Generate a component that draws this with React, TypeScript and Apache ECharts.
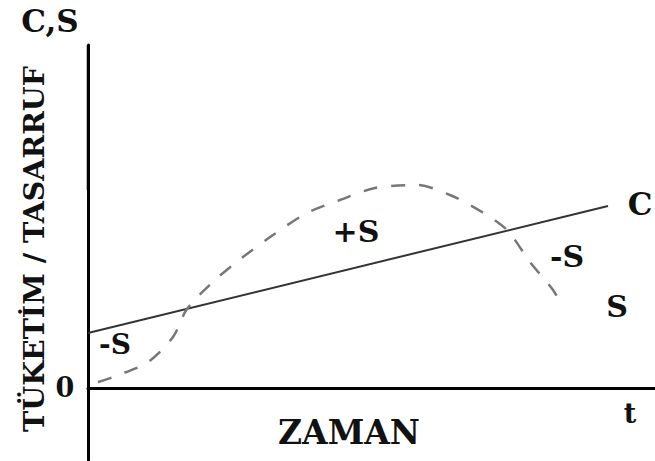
import React, { useEffect, useRef } from "react";
import * as echarts from "echarts";

// time (arbitrary units) and values (arbitrary units)
const consumptionT = [0, 520];
const consumptionV = [55, 182];
const savingT = [10, 25, 60, 85, 99, 127, 155, 185, 219, 252, 287, 329, 362, 394, 419, 442, 465, 472];
const savingV = [6, 11, 26, 51, 79, 108, 131, 153, 175, 188, 200, 203, 193, 176, 158, 126, 98, 86];
const X_MAX = 567;
const Y_MIN = -72;
const Y_MAX = 343;

const FONT = "DejaVu Serif";

export default function App() {
  const ref = useRef<HTMLDivElement>(null);
  useEffect(() => {
    if (!ref.current) return;
    const chart = echarts.init(ref.current, undefined, { renderer: "svg" });
    const txt = (text: string, x: number, y: number, size: number, extra: any = {}) => ({
      type: "text",
      x,
      y,
      ...extra,
      style: {
        text,
        fill: "#111",
        fontFamily: FONT,
        fontWeight: "bold",
        fontSize: size,
        textAlign: "center",
        textVerticalAlign: "middle",
      },
    });
    chart.setOption({
      animation: false,
      backgroundColor: "#fff",
      grid: { left: 88, right: 0, top: 45, bottom: 1 },
      xAxis: {
        type: "value",
        min: 0,
        max: X_MAX,
        axisLine: { show: true, onZero: true, lineStyle: { color: "#000", width: 3 } },
        axisTick: { show: false },
        axisLabel: { show: false },
        splitLine: { show: false },
      },
      yAxis: {
        type: "value",
        min: Y_MIN,
        max: Y_MAX,
        axisLine: { show: true, onZero: true, lineStyle: { color: "#000", width: 3 } },
        axisTick: { show: false },
        axisLabel: { show: false },
        splitLine: { show: false },
      },
      series: [
        {
          name: "C",
          type: "line",
          data: consumptionT.map((t, i) => [t, consumptionV[i]]),
          symbol: "none",
          lineStyle: { color: "#333", width: 2 },
        },
        {
          name: "S",
          type: "line",
          data: savingT.map((t, i) => [t, savingV[i]]),
          symbol: "none",
          smooth: 0.3,
          lineStyle: { color: "#777", width: 2.5, type: [14, 14] },
        },
      ],
      graphic: [
        {
          type: "line",
          shape: { x1: 88, y1: 45, x2: 88, y2: 190 },
          style: { stroke: "#777", lineWidth: 3 },
        },
        txt("C,S", 50, 21, 31),
        txt("0", 65, 387, 27),
        txt("TÜKETİM / TASARRUF", 34, 249, 28.5, { rotation: Math.PI / 2 }),
        txt("ZAMAN", 349, 432, 33),
        txt("t", 630, 413, 27),
        txt("C", 640, 204, 31),
        txt("+S", 356, 231, 30),
        txt("-S", 567, 256, 30),
        txt("S", 617, 306, 30),
        txt("-S", 115, 344, 28),
      ],
    });
    return () => chart.dispose();
  }, []);
  return (
    <div
      ref={ref}
      style={{ position: "fixed", left: 0, top: 0, width: 655, height: 461 }}
    />
  );
}
